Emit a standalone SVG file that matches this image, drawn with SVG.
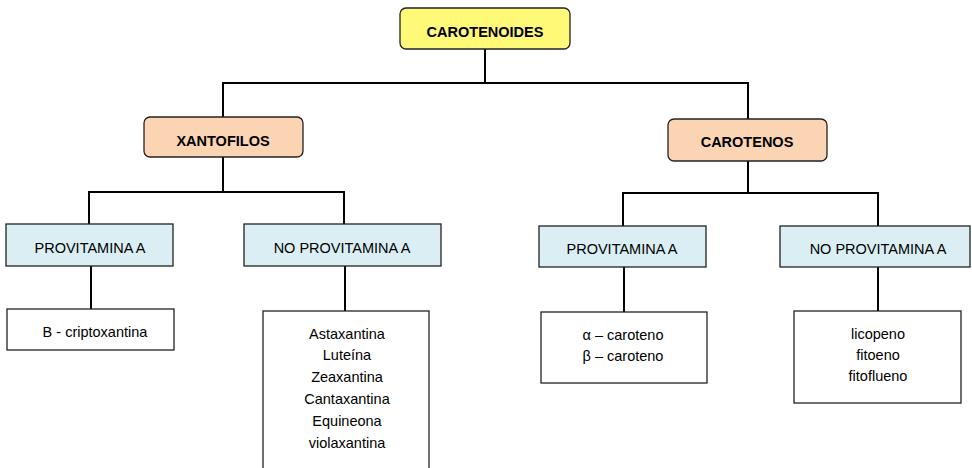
<svg xmlns="http://www.w3.org/2000/svg" width="972" height="468" viewBox="0 0 972 468">
<style>
text{font-family:"Liberation Sans",Arial,sans-serif;fill:#000;text-anchor:middle}
.t{font-size:14.5px}
.b{font-size:14.5px;font-weight:bold}
.top{fill:#FFF978;stroke:#222;stroke-width:1.3}
.mid{fill:#FBD4B4;stroke:#222;stroke-width:1.3}
.cat{fill:#DAEEF3;stroke:#222;stroke-width:1.3}
.leaf{fill:#fff;stroke:#222;stroke-width:1.3}
.conn{fill:none;stroke:#000;stroke-width:2}
</style>
<rect width="972" height="468" fill="#fff"/>
<g id="connectors" class="conn">
<path d="M485,49 V83"/>
<path d="M223,117 V83 H748 V119"/>
<path d="M223,157 V192"/>
<path d="M89,224 V192 H344 V224"/>
<path d="M748,161 V193"/>
<path d="M623,226 V193 H878 V226"/>
<path d="M91,266 V309"/>
<path d="M345,266 V311"/>
<path d="M624,267 V312"/>
<path d="M878,267 V311"/>
</g>
<g id="carotenoides">
<rect class="top" x="400" y="8" width="170" height="41" rx="6"/>
<text class="b" x="485" y="37">CAROTENOIDES</text>
</g>
<g id="xantofilos">
<rect class="mid" x="144" y="117" width="159" height="40" rx="6"/>
<text class="b" x="223" y="146">XANTOFILOS</text>
</g>
<g id="carotenos">
<rect class="mid" x="668" y="119" width="159" height="42" rx="6"/>
<text class="b" x="747" y="147">CAROTENOS</text>
</g>
<g id="x-provitamina">
<rect class="cat" x="6" y="224" width="167" height="42"/>
<text class="t" x="90" y="253">PROVITAMINA A</text>
</g>
<g id="x-noprovitamina">
<rect class="cat" x="244" y="224" width="197" height="42"/>
<text class="t" x="342" y="253">NO PROVITAMINA A</text>
</g>
<g id="c-provitamina">
<rect class="cat" x="539" y="226" width="167" height="41"/>
<text class="t" x="622" y="254">PROVITAMINA A</text>
</g>
<g id="c-noprovitamina">
<rect class="cat" x="780" y="226" width="190" height="41"/>
<text class="t" x="878" y="254">NO PROVITAMINA A</text>
</g>
<g id="criptoxantina">
<rect class="leaf" x="7" y="309" width="167" height="41"/>
<text class="t" x="95" y="337">B - criptoxantina</text>
</g>
<g id="xantofilas-lista">
<rect class="leaf" x="263" y="311" width="166" height="170"/>
<text class="t" x="347" y="339">Astaxantina</text>
<text class="t" x="347" y="360">Luteína</text>
<text class="t" x="347" y="382">Zeaxantina</text>
<text class="t" x="347" y="404">Cantaxantina</text>
<text class="t" x="347" y="426">Equineona</text>
<text class="t" x="347" y="448">violaxantina</text>
</g>
<g id="carotenos-provitamina">
<rect class="leaf" x="541" y="312" width="166" height="71"/>
<text class="t" x="623" y="340">α – caroteno</text>
<text class="t" x="623" y="361">β – caroteno</text>
</g>
<g id="carotenos-noprovitamina">
<rect class="leaf" x="794" y="311" width="167" height="92"/>
<text class="t" x="878" y="339">licopeno</text>
<text class="t" x="878" y="360">fitoeno</text>
<text class="t" x="878" y="381">fitoflueno</text>
</g>
</svg>
